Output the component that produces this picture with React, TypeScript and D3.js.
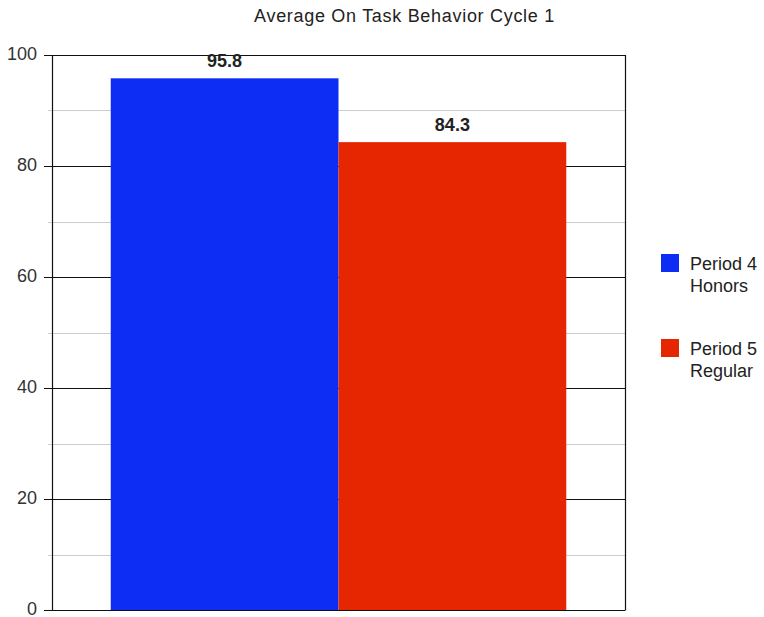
import React from "react";
import * as d3 from "d3";

const title = "Average On Task Behavior Cycle 1";
const categories = ["Cycle 1"];
const seriesNames = ["Period 4 Honors", "Period 5 Regular"];
const legendLines = [["Period 4", "Honors"], ["Period 5", "Regular"]];
const seriesValues = [95.8, 84.3];
const seriesColors = ["#0d2df4", "#e62600"];
const majorTicks = [0, 20, 40, 60, 80, 100];
const minorTicks = [10, 30, 50, 70, 90];

const W = 764;
const H = 617;
const plot = { left: 52, right: 625, top: 55, bottom: 610 };
const FONT = "'Liberation Sans', Arial, sans-serif";

export default function App() {
  const y = d3.scaleLinear().domain([0, 100]).range([plot.bottom, plot.top]);
  const x0 = d3
    .scaleBand<string>()
    .domain(categories)
    .range([plot.left, plot.right])
    .paddingInner(0.205)
    .paddingOuter(0.1025);
  const x1 = d3
    .scaleBand<string>()
    .domain(seriesNames)
    .range([0, x0.bandwidth()]);

  return (
    <svg
      width={W}
      height={H}
      style={{ position: "absolute", left: 0, top: 0, display: "block", background: "#fff" }}
      fontFamily={FONT}
    >
      <text
        x={404.5}
        y={22}
        textAnchor="middle"
        fontSize={18}
        letterSpacing={0.7}
        fill="#222"
      >
        {title}
      </text>

      {/* minor gridlines */}
      {minorTicks.map((t) => (
        <line
          key={"mi" + t}
          x1={plot.left - 4}
          x2={plot.right}
          y1={Math.round(y(t)) + 0.5}
          y2={Math.round(y(t)) + 0.5}
          stroke="#cccccc"
          strokeWidth={1}
        />
      ))}
      {/* major gridlines with ticks */}
      {majorTicks.map((t) => (
        <g key={"ma" + t}>
          <line
            x1={plot.left - 8}
            x2={plot.right}
            y1={Math.round(y(t)) + 0.5}
            y2={Math.round(y(t)) + 0.5}
            stroke="#111"
            strokeWidth={1.2}
          />
          <text
            x={37}
            y={y(t)}
            dy="0.3em"
            textAnchor="end"
            fontSize={18}
            fill="#333"
          >
            {t}
          </text>
        </g>
      ))}

      {/* bars */}
      {categories.map((c) => (
        <g key={c} transform={`translate(${x0(c)},0)`}>
          {seriesNames.map((s, i) => (
            <rect
              key={s}
              x={x1(s)}
              y={y(seriesValues[i])}
              width={x1.bandwidth()}
              height={y(0) - y(seriesValues[i])}
              fill={seriesColors[i]}
            />
          ))}
        </g>
      ))}

      {/* frame */}
      <line x1={plot.left + 0.5} x2={plot.left + 0.5} y1={plot.top} y2={plot.bottom + 0.5} stroke="#111" strokeWidth={1.2} />
      <line x1={plot.right + 0.5} x2={plot.right + 0.5} y1={plot.top} y2={plot.bottom + 0.5} stroke="#111" strokeWidth={1.2} />

      {/* value labels */}
      {categories.map((c) =>
        seriesNames.map((s, i) => (
          <text
            key={c + s}
            x={(x0(c) ?? 0) + (x1(s) ?? 0) + x1.bandwidth() / 2}
            y={y(seriesValues[i]) - 11.5}
            textAnchor="middle"
            fontSize={18}
            fontWeight="bold"
            fill="#222"
          >
            {seriesValues[i]}
          </text>
        ))
      )}

      {/* legend */}
      {seriesNames.map((s, i) => (
        <g key={"lg" + s} transform={`translate(661,${254 + i * 85})`}>
          <rect x={0} y={0} width={18} height={18} fill={seriesColors[i]} />
          {legendLines[i].map((ln, j) => (
            <text key={ln} x={29} y={16 + j * 21.5} fontSize={18} fill="#222">
              {ln}
            </text>
          ))}
        </g>
      ))}
    </svg>
  );
}
